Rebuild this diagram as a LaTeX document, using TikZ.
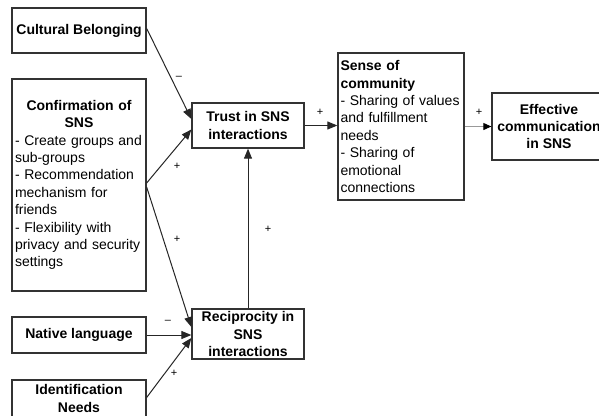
\documentclass[tikz,border=0pt]{standalone}
\usepackage{fontspec}
\setmainfont{Liberation Sans}
\usetikzlibrary{arrows.meta}
\tikzset{
  box/.style={draw=black!80, line width=1.3pt, fill=white, rectangle, inner sep=0pt,
    font=\fontsize{14}{17.4}\selectfont},
  tbox/.style={box, align=center, font=\fontsize{14}{17.4}\selectfont\bfseries},
  conn/.style={draw=black!85, line width=1pt, -{Triangle[length=10pt,width=8pt]}},
  sign/.style={font=\fontsize{11}{13}\selectfont, inner sep=0pt}
}
\begin{document}
\begin{tikzpicture}[x=1pt,y=-1pt]
\useasboundingbox (0,0) rectangle (599,415);
\fill[white] (0,0) rectangle (599,415);
\clip (0,0) rectangle (599,415);

\node[tbox, minimum width=134pt, minimum height=45pt] (cb) at (79,30.5) {Cultural Belonging};

\node[box, minimum width=134pt, minimum height=212pt, text width=128pt] (conf) at (79,185)
  {\centering\bfseries Confirmation of\\SNS\par
   \raggedright\mdseries - Create groups and\\sub-groups\\- Recommendation\\mechanism for\\friends\\- Flexibility with\\privacy and security\\settings\par};

\node[tbox, minimum width=134pt, minimum height=36pt] (nl) at (79,335) {Native language};

\node[tbox, minimum width=134pt, minimum height=37pt] (idn) at (79,398.5) {Identification\\Needs};

\node[tbox, minimum width=112pt, minimum height=45pt] (trust) at (248,125.5) {Trust in SNS\\interactions};

\node[tbox, minimum width=112pt, minimum height=50pt] (recip) at (248,334) {Reciprocity in\\SNS\\interactions};

\node[box, minimum width=126pt, minimum height=147pt, text width=121pt] (sense) at (401,126.5)
  {\raggedright\bfseries Sense of\\community\\\mdseries - Sharing of values\\and fulfillment\\needs\\- Sharing of\\emotional\\connections\par};

\node[tbox, minimum width=114pt, minimum height=67pt] (eff) at (549,126.5) {Effective\\communication\\in SNS};

% connectors
\draw[conn] ([yshift=2pt]cb.east) -- ([yshift=6.5pt]trust.west);
\draw[conn] ([yshift=2pt]conf.east) -- ([yshift=-4pt]trust.west);
\draw[conn] ([yshift=-2pt]conf.east) -- ([yshift=7pt]recip.west);
\draw[conn] (nl.east) -- (nl.east -| recip.west);
\draw[conn] ([yshift=1pt]idn.east) -- ([yshift=-4pt]recip.west);
\draw[conn] (recip.north) -- (trust.south);
\draw[conn] (trust.east) -- (trust.east -| sense.west);
\draw[conn, draw=black!40, -{Triangle[length=8pt,width=7pt,fill=black,color=black]}] (sense.east) -- (sense.east -| eff.west);

% signs
\node[sign] (s1) at (179,78) {–};
\node[sign] (s2) at (177,166) {+};
\node[sign] (s3) at (177,239) {+};
\node[sign] (s4) at (268,229) {+};
\node[sign] (s5) at (168,322) {–};
\node[sign] (s6) at (174,373) {+};
\node[sign] (s7) at (320,112) {+};
\node[sign] (s8) at (479,112) {+};
\end{tikzpicture}
\end{document}
